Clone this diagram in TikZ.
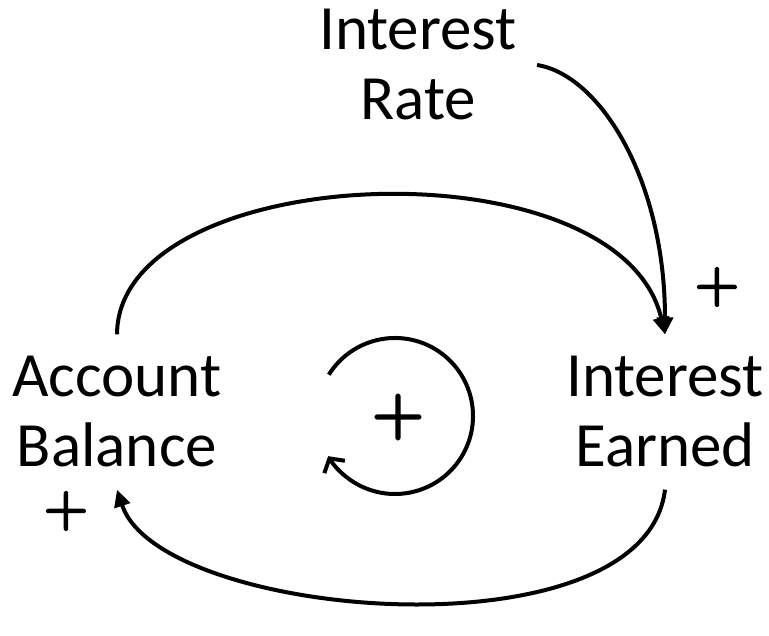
\documentclass[tikz,border=0pt]{standalone}
\usepackage{fontspec}
\setmainfont{Carlito}
\newfontfamily\signfont{Latin Modern Roman}[FakeBold=4]
\usetikzlibrary{arrows.meta, positioning}

\begin{document}
\begin{tikzpicture}[x=1pt, y=1pt,
    var/.style={align=center, inner xsep=20pt, inner ysep=4pt, font=\fontsize{63}{70}\selectfont},
    sign/.style={inner sep=0pt, font=\signfont\fontsize{60}{60}\selectfont},
    link/.style={line width=4pt, -{Triangle[length=17pt, width=16pt]}}]
    \useasboundingbox (0,0) rectangle (769,636);

    % Variables
    \node[var] (rate) at (418, 571) {Interest\\Rate};
    \node[var] (balance) at (117, 224) {Account\\Balance};
    \node[var] (earned) at (665, 224) {Interest\\Earned};

    % Links
    \draw[link] (rate.east) .. controls (600, 561) and (665, 456) .. ([yshift=18pt]earned.north);
    \draw[link] ([yshift=18pt]balance.north) .. controls (118, 476) and (620, 496) .. ([yshift=18pt]earned.north);
    \draw[link] ([yshift=-18pt]earned.south) .. controls (645, -24) and (160, 16) .. ([yshift=-18pt]balance.south);

    % Polarities
    \node[sign] (signrate) at (717, 349) {+};
    \node[sign] (signbal) at (66, 125) {+};

    % Loop
    \node[sign, font=\signfont\fontsize{70}{70}\selectfont] (loop) at (398, 219) {+};
    \coordinate (loopc) at (395, 220);
    \draw[line width=4pt, -{Straight Barb[length=10pt, width=24pt]}]
        ([shift={(148:78)}]loopc) arc[start angle=148, end angle=-149, radius=78];
\end{tikzpicture}
\end{document}
